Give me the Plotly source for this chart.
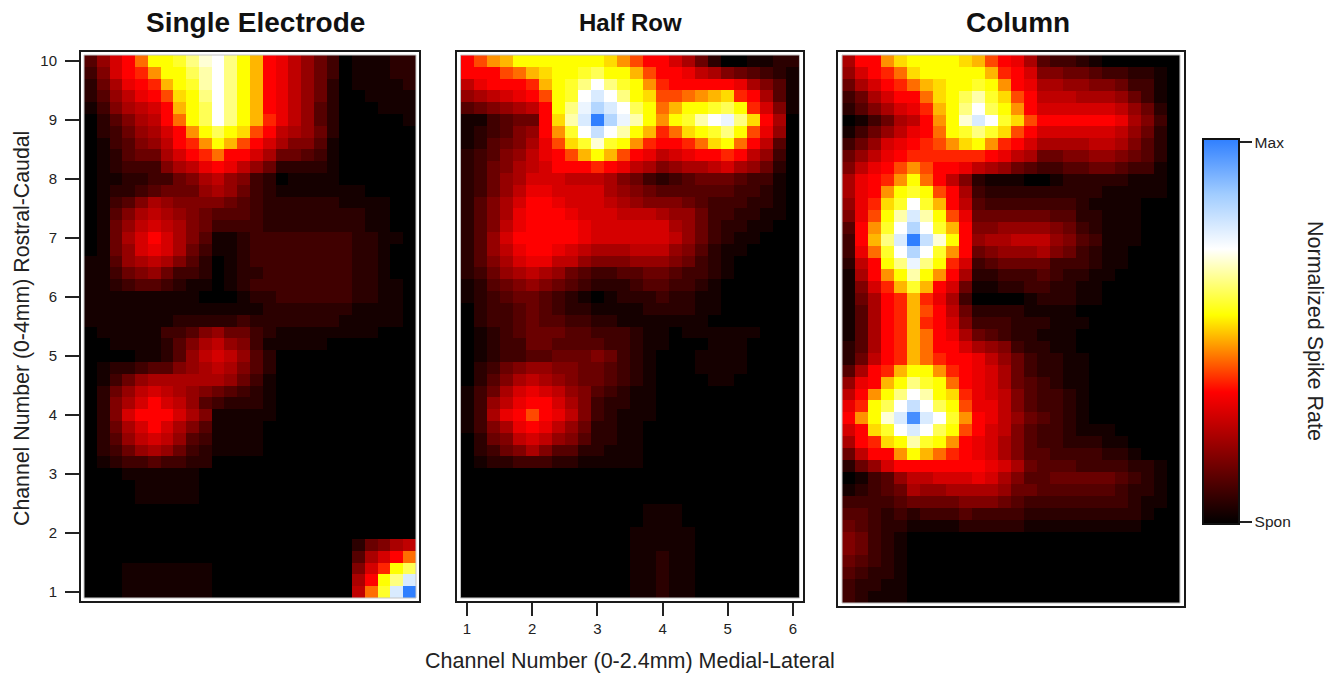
import plotly.graph_objects as go

# Levels are base-36 digits (0..z). Top row = channel 10, bottom row = channel 1.
# Rows shorter than 26 columns are black to the right.
single_electrode = [
    "47acfjjkmopmjhcb9753011122",
    "36acdgjjlnpmjhcb9753011122",
    "258bcdhjknpmjhcb9752011112",
    "2479bceijmpmjhcb9752001111",
    "13689achjlpmjhcb9742000111",
    "024689cfjlpmjhdb9742000001",
    "023578acgjljiec98752000000",
    "0134679cdgjheca86641000000",
    "0124558acdfcca855431",
    "012333689bcb97522221",
    "011223356897632011110",
    "0122345557875321111111",
    "013468766665432222221111",
    "01468987654443222222221100",
    "01579a98653333222222221100",
    "0158aca8641123333333322110",
    "0157aba85311233333333221",
    "11478986420123333333322100",
    "11356753320122333333322100",
    "11234432110123333333322110",
    "11111111100012233333322110",
    "11111111111111222222211110",
    "11111112222232222222111110",
    "01111133467553211111111000",
    "001111246897631111100000",
    "0000112479a9742",
    "012234467898642",
    "013578888887531",
    "02579a987654321",
    "0268aca97432221",
    "026accca8611111",
    "0258aca86411110",
    "02479a974311110",
    "023578753211110",
    "0123343322",
    "000111111",
    "000011111",
    "000011111",
    "",
    "",
    "",
    "00000000000000000000025689",
    "000000000000000000000 48acf".replace(" ", ""),
    "0001111111000000000006adjl",
    "0001111111000000000008cjmr",
    "0001111111000000000009fkrz",
]

half_row = [
    "ceghjjjjjjjigecca852001122",
    "cccefhijjkljjheccb98654321",
    "9bcccdhjkmpmkjgdcccccb8641",
    "789abcejkprpmjieefghidc841",
    "456789cjmqtrpljfhjjkljda61",
    "113455cinrztqnjgjknpqmic80",
    "123467cgkpspnjhdfijkmjeb70",
    "124568beikokjgdccdfijfc940",
    "234679bcehjhecb9abccdc9730",
    "235689acccdcb9867889a87520",
    "23578aaa999865323455543310",
    "23579bbaaaa876544444433210",
    "2468accbaaa987666543332210",
    "2468bcccbaaa99987753322110",
    "2469bccccbaaaaaa8753221100",
    "247acccccbaaaaaa9753211000",
    "2479bccba98889997642110000",
    "2468abb99766677765321",
    "235789875433445543321",
    "12456765432223443321",
    "12345543210122232211",
    "02334543221111222211",
    "02334544332211111110",
    "01234555443332110111111",
    "0123355444433211000111",
    "01233445556532100011110",
    "0235677665543210001111",
    "024689876554321000011",
    "1358aba976432110",
    "1379bcca86322110",
    "138bcecb96321110",
    "1368bcb97522110",
    "02569a976422110",
    "023568644221110",
    "012233322111110",
    "",
    "",
    "",
    "00000000000000111",
    "00000000000000111",
    "000000000000011111",
    "000000000000011111",
    "000000000000011211",
    "000000000000011211",
    "000000000000011211",
    "000000000000011211",
]

column = [
    "8ccgijjjjihecb84332100000",
    "7acdfijjjjjhdca66554332210",
    "58acdfhijjkjgcb88776653310",
    "358accfijlnkiec99988875310",
    "2468abdhjmpljgcaaaaaa97520",
    "013589cgjorpkieccccccb8630",
    "13579bcfjkmkiecaaaaaa97520",
    "357abcdegijgdca88889986420",
    "579bcddddddcb9855667765420",
    "69bcegeccb9875433445543310",
    "8bcdgjfc962111001222221110",
    "8bcgjkjec83222222222111110",
    "7bdikpkhc94333333321111000",
    "6bejnrnjeb5555554422111000",
    "4cgkptpkhc6677776532111000",
    "3chmrzsojc7889997643111000",
    "3bfkptpkgc5677786532110000",
    "29cjmqmjda3455553332110000",
    "18cgjnjgc8223334322110",
    "16adhkhca511223322110",
    "158cdhdb830000122211",
    "148cdhec95222211110",
    "148cdhdca6333222111",
    "148cdhfcb8543221110",
    "248cdhfcca876322110",
    "259cdhfdccb975322110",
    "48cdhjjgdcba85322110",
    "7bchjmkjfcba85432110",
    "9cgjmpnjidba96433210",
    "bdjlpspljebb96433210",
    "cgjoryrpkgcb97543210",
    "acikprpljeca964332111",
    "8cdijnkjgcba86433222110",
    "59ccgjhfdcba86443333221",
    "257acccccccba854443333221",
    "0134799aaaba86445555543210",
    "12345877888875544444432210",
    "33334555566654333333332110",
    "44323233343333222222222100",
    "54322111122222111111111000",
    "653210",
    "653210",
    "543210",
    "432210",
    "322110",
    "321110",
]

channels_x = [1 + 0.2 * i for i in range(26)]
channels_y = [10 - 0.2 * i for i in range(46)]
tick_x = [1, 2, 3, 4, 5, 6]
tick_y = [1, 2, 3, 4, 5, 6, 7, 8, 9, 10]
titles = ["Single Electrode", "Half Row", "Column"]
title_sizes = [28, 24, 28]


def to_levels(rows):
    return [[int(c, 36) for c in r.ljust(26, "0")[:26]] for r in rows]


W, H = 1341, 677
FONT = "Liberation Sans"
INK = "#222222"

# frame in pixels: left, right, top, bottom; then the wider axis ranges
panels = [
    (81, 419, 52, 601, [0.853, 6.147], [0.849, 10.151]),
    (457, 803, 52, 601, [0.846, 6.154], [0.849, 10.151]),
    (838, 1184, 52, 606, [0.838, 6.162], [0.85, 10.15]),
]
grids = [single_electrode, half_row, column]

fig = go.Figure()
layout = {}
shapes = []
for i, (grid, p) in enumerate(zip(grids, panels)):
    n = "" if i == 0 else str(i + 1)
    L, R, T, B, xr, yr = p
    fig.add_trace(go.Heatmap(
        x=channels_x, y=channels_y, z=to_levels(grid),
        coloraxis="coloraxis", xaxis="x" + n, yaxis="y" + n,
    ))
    layout["xaxis" + n] = dict(
        domain=[L / W, R / W], range=xr, showgrid=False, zeroline=False,
        showline=True, mirror=True, linecolor="#1a1a1a", linewidth=2,
        tickmode="array", tickvals=tick_x if i == 1 else [],
        ticks="outside" if i == 1 else "", ticklen=13, tickwidth=2, tickcolor="#222",
        tickfont=dict(family=FONT, size=15, color=INK), anchor="y" + n,
        showticklabels=(i == 1),
    )
    layout["yaxis" + n] = dict(
        domain=[1 - B / H, 1 - T / H], range=yr, showgrid=False, zeroline=False,
        showline=True, mirror=True, linecolor="#1a1a1a", linewidth=2,
        tickmode="array", tickvals=tick_y if i == 0 else [],
        ticks="outside" if i == 0 else "", ticklen=14, tickwidth=2, tickcolor="#222",
        tickfont=dict(family=FONT, size=15, color=INK), anchor="x" + n,
        ticklabelstandoff=5, showticklabels=(i == 0),
    )
    # thin grey edge that sits round each image inside the frame
    shapes.append(dict(type="rect", xref="x" + n, yref="y" + n, layer="above",
                       x0=0.9, x1=6.1, y0=0.9, y1=10.1,
                       line=dict(color="#c4c4c4", width=1), fillcolor="rgba(0,0,0,0)"))

stops = [
    (0, "#000000"), (12, "#ff0000"), (19, "#ffff00"),
    (25, "#ffffff"), (30, "#a0ccff"), (35, "#2f7fff"),
]

annotations = []
for t, cx, s in zip(titles, [255, 630, 1018], title_sizes):
    annotations.append(dict(text="<b>%s</b>" % t, x=cx / W, y=1 - 22 / H, xref="paper", yref="paper",
                            showarrow=False, xanchor="center", yanchor="middle",
                            font=dict(family=FONT, size=s, color="#111111")))
annotations.append(dict(text="Channel Number (0-4mm) Rostral-Caudal", x=22 / W, y=1 - 329 / H,
                        xref="paper", yref="paper", showarrow=False, textangle=-90,
                        xanchor="center", yanchor="middle",
                        font=dict(family=FONT, size=21.3, color=INK)))
annotations.append(dict(text="Channel Number (0-2.4mm) Medial-Lateral", x=630 / W, y=1 - 661 / H,
                        xref="paper", yref="paper", showarrow=False,
                        xanchor="center", yanchor="middle",
                        font=dict(family=FONT, size=21.5, color=INK)))
annotations.append(dict(text="Normalized Spike Rate", x=1315 / W, y=1 - 331 / H,
                        xref="paper", yref="paper", showarrow=False, textangle=90,
                        xanchor="center", yanchor="middle",
                        font=dict(family=FONT, size=21.5, color=INK)))

fig.update_layout(
    width=W, height=H, margin=dict(l=0, r=0, t=0, b=0),
    paper_bgcolor="white", plot_bgcolor="white", showlegend=False,
    coloraxis=dict(
        cmin=0, cmax=35,
        colorscale=[[k / 35, c] for k, c in stops],
        colorbar=dict(
            x=1203 / W, xanchor="left", xref="paper", xpad=0,
            y=1 - 524 / H, yanchor="bottom", yref="paper", ypad=0,
            len=385, lenmode="pixels", thickness=36, thicknessmode="pixels",
            outlinewidth=2, outlinecolor="#111111",
            tickmode="array", tickvals=[0.2, 34.7], ticktext=["Spon", "Max"],
            ticks="outside", ticklen=12, tickwidth=2, tickcolor="#222",
            tickfont=dict(family=FONT, size=15.5, color=INK),
        ),
    ),
    annotations=annotations,
    shapes=shapes,
    **layout,
)

fig.write_html("out.html", config={"displayModeBar": False},
               post_script="document.body.style.margin='0';")
